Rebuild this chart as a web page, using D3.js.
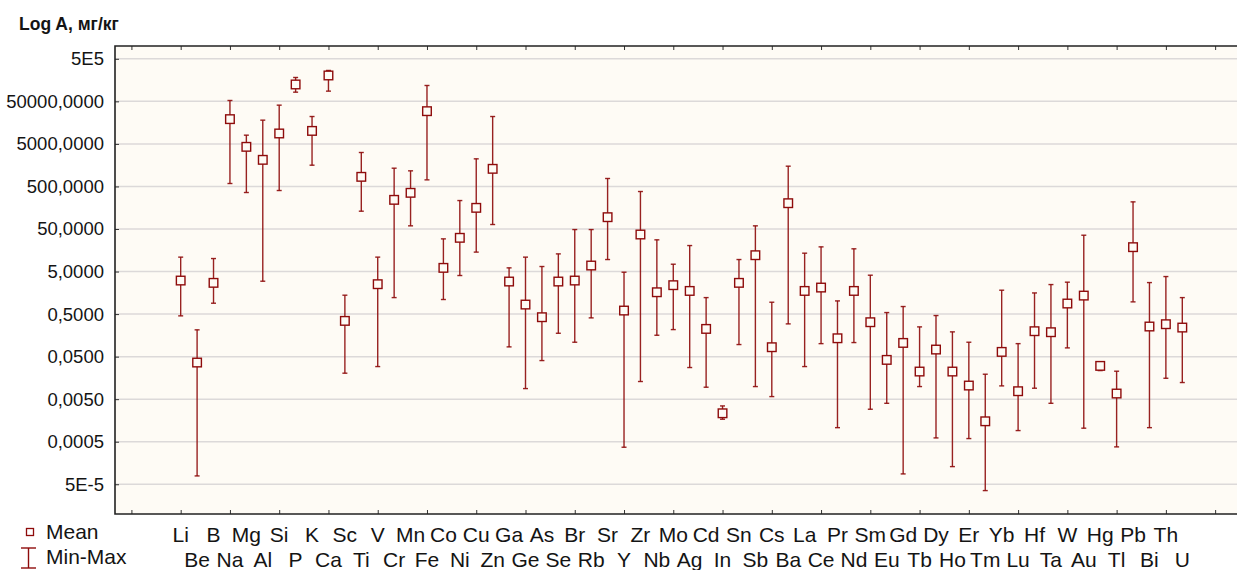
<!DOCTYPE html>
<html><head><meta charset="utf-8">
<script src="https://cdn.jsdelivr.net/npm/d3@7"></script>
<style>
html,body{margin:0;padding:0;background:#fff;}
svg text{font-family:"Liberation Sans",Arial,sans-serif;fill:#141414;}
</style></head>
<body><svg id="c" width="1237" height="570"></svg>
<script>
const elements = ["Li","Be","B","Na","Mg","Al","Si","P","K","Ca","Sc","Ti","V","Cr","Mn","Fe","Co","Ni","Cu","Zn","Ga","Ge","As","Se","Br","Rb","Sr","Y","Zr","Nb","Mo","Ag","Cd","In","Sn","Sb","Cs","Ba","La","Ce","Pr","Nd","Sm","Eu","Gd","Tb","Dy","Ho","Er","Tm","Yb","Lu","Hf","Ta","W","Au","Hg","Tl","Pb","Bi","Th","U"];
const means = [3.07,0.0363,2.71,19100,4265,2110,8790,124700,10100,203000,0.346,841,2.52,242,354,29400,6.10,31.0,157,1297,2.91,0.837,0.422,2.91,3.07,6.92,94.7,0.605,37.1,1.63,2.39,1.75,0.224,0.00233,2.71,12.1,0.0832,202,1.75,2.10,0.135,1.75,0.322,0.0419,0.105,0.0223,0.0733,0.0223,0.01045,0.00151,0.0646,0.00769,0.198,0.1875,0.885,1.36,0.0303,0.00678,18.7,0.255,0.289,0.241];
const mins = [0.454,7.85e-5,0.90,586,360,2.96,401,82200,1580,86900,0.0204,131,0.0292,1.22,59.3,714,1.10,4.03,14.3,63.7,0.0847,0.00887,0.0404,0.177,0.109,0.407,9.57,3.71e-4,0.0130,0.159,0.216,0.0277,0.00955,0.00169,0.0961,0.00989,0.00575,0.294,0.0292,0.101,0.00107,0.107,0.0029,0.0040,8.75e-5,0.00989,6.14e-4,1.30e-4,5.93e-4,3.55e-5,0.01026,9.14e-4,0.00904,0.0040,0.0802,0.00104,0.0235,3.78e-4,0.968,0.00107,0.0155,0.0123];
const maxs = [10.9,0.213,10.1,52400,8020,18070,40700,182000,22000,266000,1.39,3140,10.9,1343,1164,118000,29.3,233,2228,22000,6.1,10.9,6.56,13.0,48.5,48.5,769,4.82,380,27.8,7.43,20.4,1.22,0.00347,9.57,59.3,0.95,1497,13.5,19.0,1.02,17.1,4.10,0.543,0.752,0.25,0.462,0.191,0.109,0.0193,1.82,0.101,1.57,2.47,2.81,35.7,0.0376,0.0227,217,2.75,3.81,1.22];
const yTickValues = [5e5,5e4,5e3,500,50,5,0.5,0.05,0.005,0.0005,5e-5];
const yTickLabels = ["5E5","50000,0000","5000,0000","500,0000","50,0000","5,0000","0,5000","0,0500","0,0050","0,0005","5E-5"];
const yTitle = "Log A, мг/кг";
const legendLabels = ["Mean","Min-Max"];

const svg = d3.select("#c");
const L = 115, T = 46, B = 514, R = 1237;
const step = 16.42;
const x = d3.scaleLinear().domain([-4, 0]).range([L, L + 4*step]);
const y = d3.scaleLog().domain([1e-5, 1e6]).range([B, T]);
const red = "#8e0b0b";

// plot background
svg.append("rect").attr("x", L).attr("y", T).attr("width", R - L + 5).attr("height", B - T).attr("fill", "#fefbf5");

// gridlines
svg.append("g").selectAll("line").data(yTickValues).join("line")
  .attr("x1", L).attr("x2", R + 5)
  .attr("y1", d => y(d)).attr("y2", d => y(d))
  .attr("stroke", "#dcd9d9").attr("stroke-width", 1.5);

// y axis labels
const yAxis = d3.axisLeft(y).tickValues(yTickValues).tickFormat((d, i) => yTickLabels[i]).tickSize(-4).tickPadding(11);
const gy = svg.append("g").attr("transform", `translate(${L},0)`).call(yAxis);
gy.select(".domain").remove();
gy.selectAll(".tick line").attr("stroke", "#333").attr("stroke-width", 1);
gy.selectAll(".tick text").attr("font-size", 18.5).attr("fill", "#141414").style("font-family", '"Liberation Sans",Arial,sans-serif');

// x ticks top & bottom
const xt = d3.range(-3, 66, 3);
const gxb = svg.append("g").attr("transform", `translate(0,${B})`)
  .call(d3.axisBottom(x).tickValues(xt).tickSize(-4).tickFormat(""));
gxb.select(".domain").remove();
gxb.selectAll(".tick line").attr("stroke", "#333");
const gxt = svg.append("g").attr("transform", `translate(0,${T})`)
  .call(d3.axisTop(x).tickValues(xt).tickSize(-4).tickFormat(""));
gxt.select(".domain").remove();
gxt.selectAll(".tick line").attr("stroke", "#333");

// frame
svg.append("path").attr("d", `M${R+5},${T}H${L}V${B}H${R+5}`).attr("fill", "none").attr("stroke", "#222").attr("stroke-width", 1.6);

// x labels
svg.append("g").selectAll("text").data(elements).join("text")
  .attr("x", (d, i) => x(i))
  .attr("y", (d, i) => i % 2 === 0 ? 541.5 : 566.5)
  .attr("text-anchor", "middle").attr("font-size", 21).text(d => d);

// error bars
const g = svg.append("g");
const capW = 2.5;
elements.forEach((e, i) => {
  const cx = x(i);
  g.append("line").attr("x1", cx).attr("x2", cx).attr("y1", y(mins[i])).attr("y2", y(maxs[i]))
    .attr("stroke", red).attr("stroke-width", 1.4).attr("opacity", 0.9);
  [mins[i], maxs[i]].forEach(v => {
    g.append("line").attr("x1", cx - capW).attr("x2", cx + capW).attr("y1", y(v)).attr("y2", y(v))
      .attr("stroke", red).attr("stroke-width", 1.4).attr("opacity", 0.9);
  });
});
// means
g.selectAll("rect.m").data(means).join("rect").attr("class", "m")
  .attr("x", (d, i) => x(i) - 4.3).attr("y", d => y(d) - 4.3)
  .attr("width", 8.6).attr("height", 8.6)
  .attr("fill", "#fefbf5").attr("stroke", red).attr("stroke-width", 1.4);

// title
svg.append("text").attr("x", 19).attr("y", 30).attr("font-size", 17.5).attr("font-weight", "bold").text(yTitle);

// legend
svg.append("rect").attr("x", 26.5).attr("y", 528.5).attr("width", 7).attr("height", 7)
  .attr("fill", "none").attr("stroke", red).attr("stroke-width", 1.3);
svg.append("text").attr("x", 46).attr("y", 538.5).attr("font-size", 21).text(legendLabels[0]);
const lg = svg.append("g").attr("stroke", red).attr("stroke-width", 1.4);
lg.append("line").attr("x1", 28.5).attr("x2", 28.5).attr("y1", 548).attr("y2", 568);
lg.append("line").attr("x1", 21).attr("x2", 36).attr("y1", 548).attr("y2", 548);
lg.append("line").attr("x1", 21).attr("x2", 36).attr("y1", 568).attr("y2", 568);
svg.append("text").attr("x", 46).attr("y", 563.5).attr("font-size", 21).text(legendLabels[1]);
</script></body></html>
